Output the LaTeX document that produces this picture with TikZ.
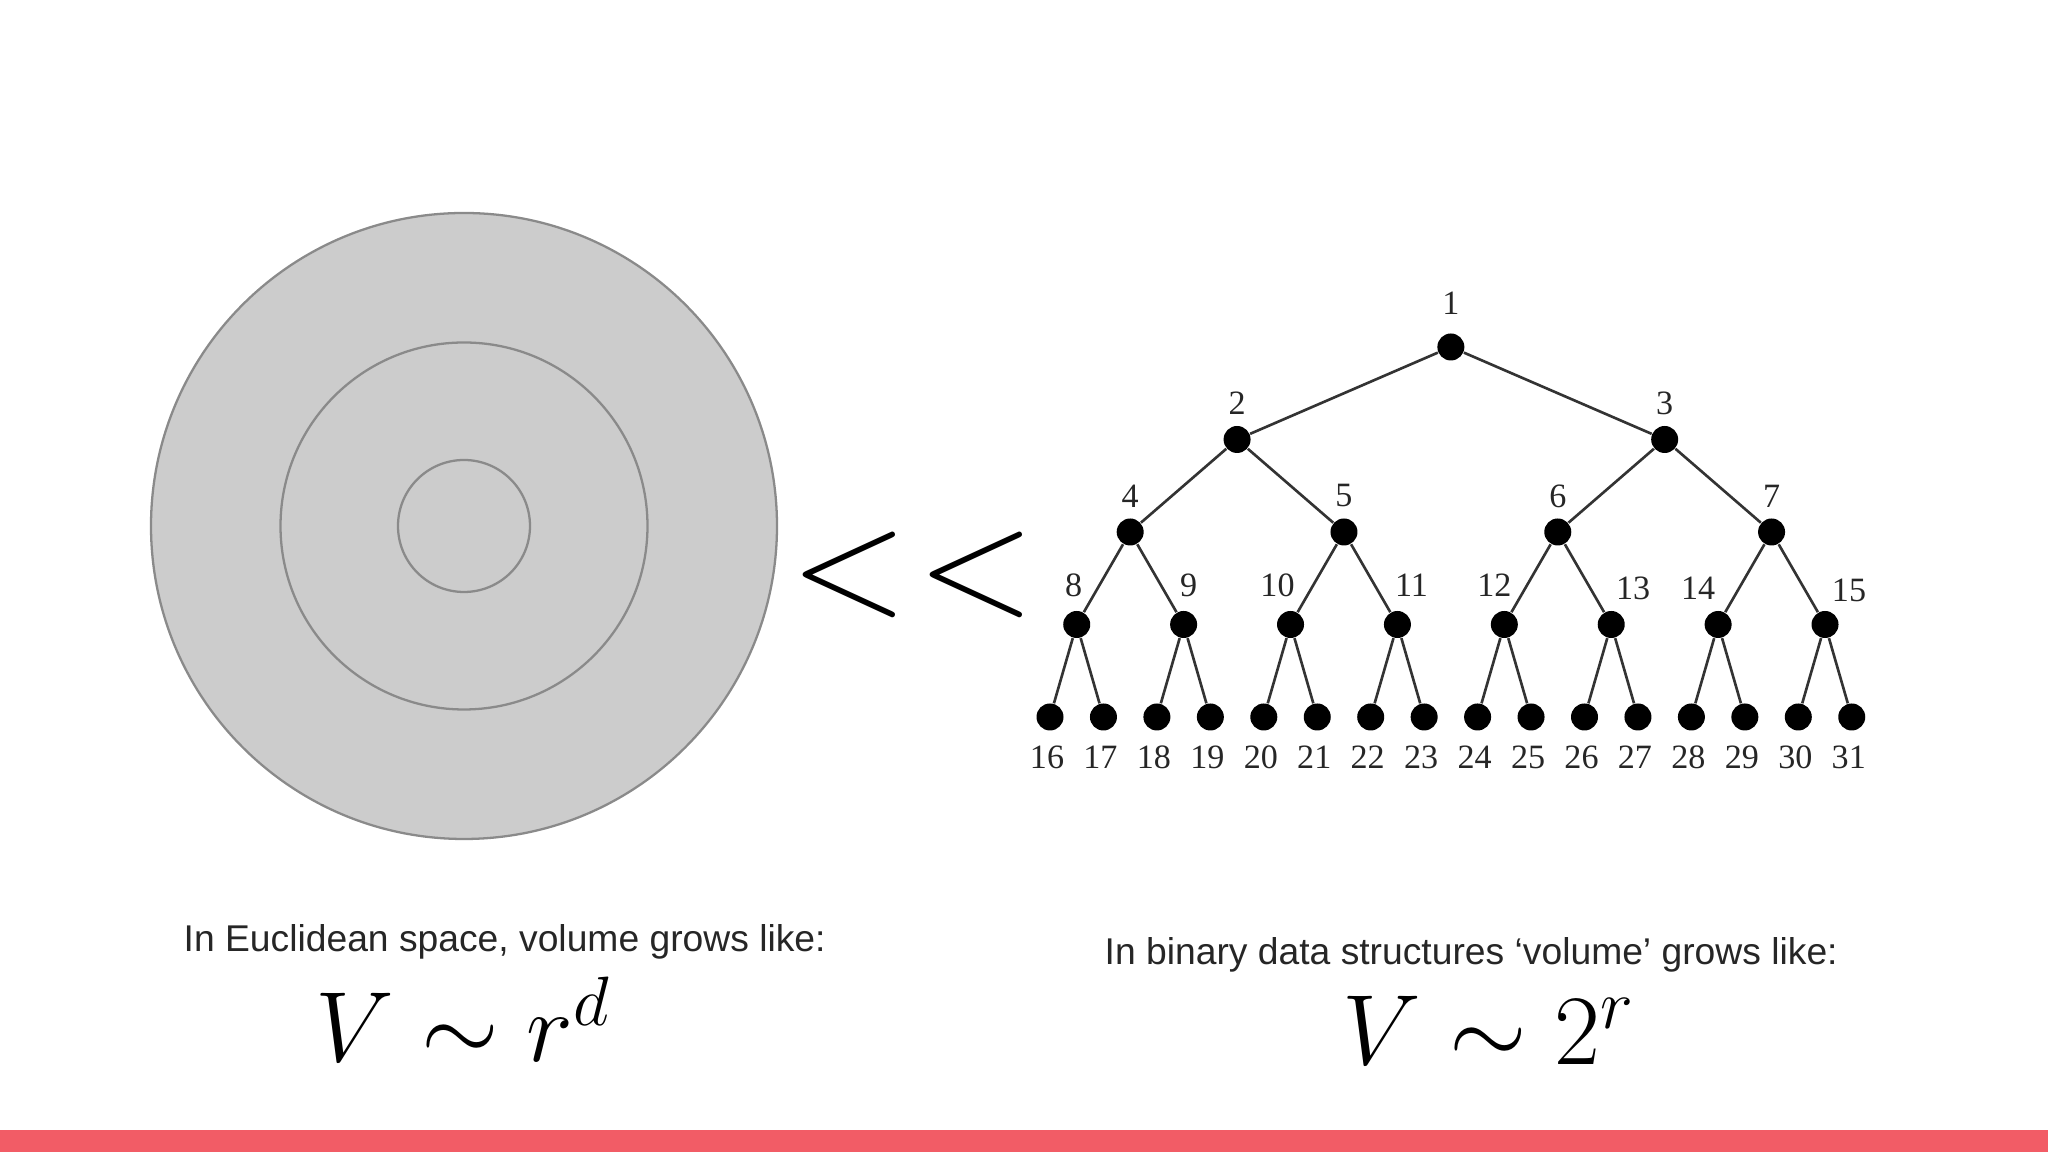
\RequirePackage{fix-cm}
\documentclass[tikz,border=0pt]{standalone}
\usepackage{fontspec}
\newfontfamily\capfont{Liberation Sans}
\newfontfamily\numfont{Liberation Serif}
\definecolor{ringfill}{HTML}{CCCCCC}
\definecolor{ringline}{HTML}{8A8A8A}
\definecolor{barred}{HTML}{F25C66}
\definecolor{inkgray}{HTML}{262626}
\begin{document}
\begin{tikzpicture}[
  dot/.style={circle,fill=black,inner sep=0pt,minimum size=0.27cm},
  branch/.style={draw=black!80,line width=0.75pt},
  numlabel/.style={font=\numfont\fontsize{9.7}{11}\selectfont,text=inkgray,inner sep=0pt},
  captext/.style={font=\capfont\fontsize{10.6}{12}\selectfont,text=inkgray,inner sep=0pt,anchor=base west},
  law/.style={font=\fontsize{28.4}{34}\selectfont,inner sep=0pt,anchor=base},
  ring/.style={draw=ringline,line width=0.65pt}]
  \useasboundingbox (0,0) rectangle (20.48,11.52);
  \fill[barred] (0,0) rectangle (20.48,0.22);
  \coordinate (C) at (4.64,6.26);
  \fill[ringfill] (C) circle (3.13);
  \foreach \r in {3.13,1.835,0.66} \draw[ring] (C) circle (\r);
  \node[inner sep=0pt,font=\fontsize{44}{50}\selectfont] (ll) at (9.13,5.77) {$<\mkern1mu<$};
  \foreach \lvl/\first/\last in {0/1/1,1/2/3,2/4/7,3/8/15,4/16/31}
    \foreach \k in {\first,...,\last}{
      \pgfmathsetmacro\xx{10.50+0.5345*((\k-\first+0.5)*2^(4-\lvl)-0.5)}
      \pgfmathsetmacro\yy{8.05-0.925*\lvl}
      \node[dot] (n\k) at (\xx,\yy) {};
    }
  \foreach \k in {2,...,31}{
    \pgfmathtruncatemacro\pk{floor(\k/2)}
    \draw[branch] (n\pk) -- (n\k);
  }
  \node[numlabel] (l1) at ([yshift=0.44cm]n1) {1};
  \foreach \k in {2,...,7} \node[numlabel] (l\k) at ([yshift=0.36cm]n\k) {\k};
  \foreach \k/\dx/\dy in {8/-0.03/0.39,9/0.05/0.39,10/-0.13/0.39,11/0.14/0.39,12/-0.10/0.39,13/0.22/0.36,14/-0.20/0.36,15/0.24/0.34}
    \node[numlabel] (l\k) at ([shift={(\dx,\dy)}]n\k) {\k};
  \foreach \k in {16,...,31} \node[numlabel] (l\k) at ([shift={(-0.03,-0.40)}]n\k) {\k};
  \node[captext] (t1) at (1.83,2.00) {In Euclidean space, volume grows like:};
  \node[law] (f1) at (4.63,0.90) {$V\sim r^d$};
  \node[captext] (t2) at (11.04,1.87) {In binary data structures ‘volume’ grows like:};
  \node[law] (f2) at (14.89,0.87) {$V\sim 2^r$};
\end{tikzpicture}
\end{document}
